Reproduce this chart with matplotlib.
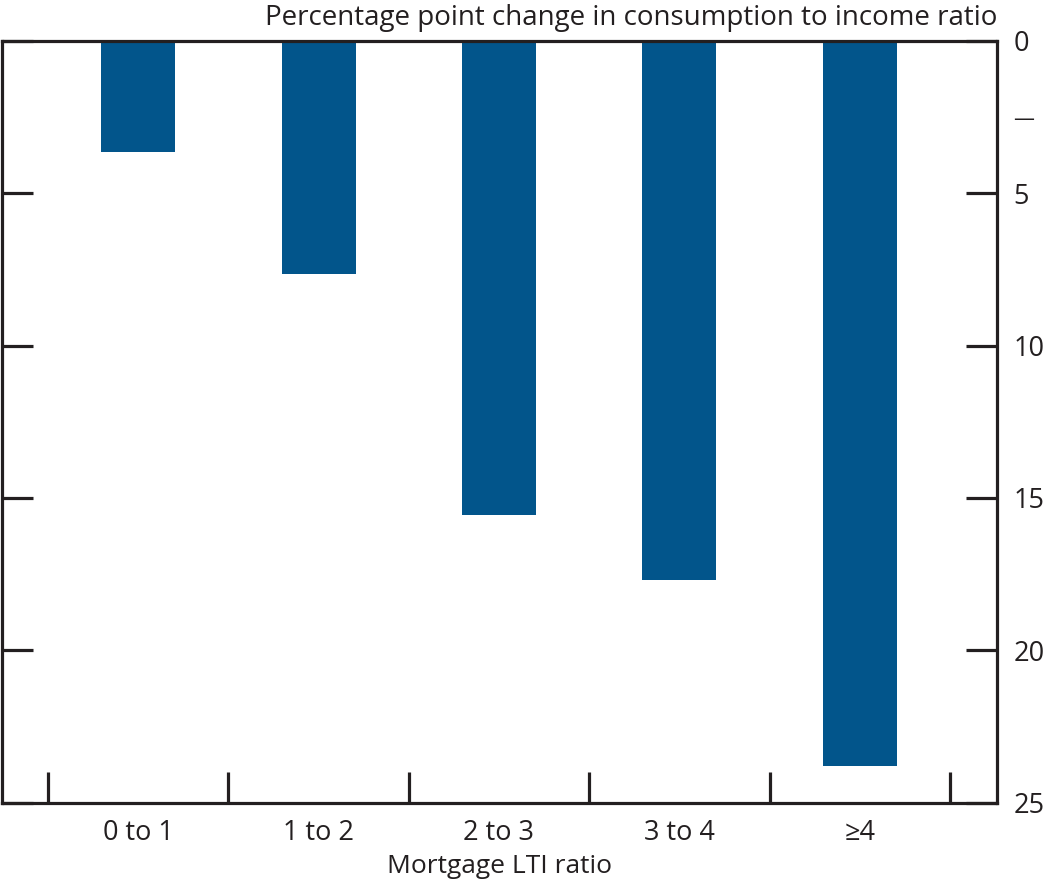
import matplotlib.pyplot as plt
import numpy as np

plt.rcParams['font.family'] = ['Open Sans', 'DejaVu Sans']

categories = ['0 to 1', '1 to 2', '2 to 3', '3 to 4', '\u22654']
values = [3.65, 7.65, 15.55, 17.7, 23.8]

fig = plt.figure(figsize=(10.45, 8.85), dpi=100)
ax = fig.add_axes([0.002, 0.093, 0.952, 0.861])

x = np.arange(len(categories))
ax.bar(x, values, width=0.41, color='#02558B')

ax.set_xlim(-0.754, 4.76)
ax.set_ylim(25, 0)

for s in ax.spines.values():
    s.set_linewidth(2.3)
    s.set_color('#231f20')

# x: ticks at category boundaries, labels at centres
ax.set_xticks(np.arange(-0.5, len(categories)), minor=False)
ax.set_xticklabels([])
ax.set_xticks(x, minor=True)
ax.set_xticklabels(categories, minor=True)
ax.tick_params(axis='x', which='major', direction='in', length=22, width=2.3,
               color='#231f20', bottom=True, top=False)
ax.tick_params(axis='x', which='minor', length=0, labelsize=19.5, pad=12,
               labelcolor='#231f20')

ax.set_yticks([0, 5, 10, 15, 20, 25])
ax.set_yticks([2.5], minor=True)
ax.set_yticklabels(['\u2014'], minor=True)
ax.tick_params(axis='y', which='major', direction='in', length=22, width=2.3,
               color='#231f20', left=True, right=True, labelleft=False,
               labelright=True, labelsize=19.5, pad=12, labelcolor='#231f20')
ax.tick_params(axis='y', which='minor', length=0, left=False, right=False,
               labelleft=False, labelright=True, labelsize=15, pad=12,
               labelcolor='#231f20')

ax.set_xlabel('Mortgage LTI ratio', fontsize=19, color='#231f20', labelpad=5)
ax.text(1.0, 1.012, 'Percentage point change in consumption to income ratio',
        transform=ax.transAxes, ha='right', va='bottom', fontsize=20,
        color='#231f20')

fig.savefig('out.png', dpi=100)
